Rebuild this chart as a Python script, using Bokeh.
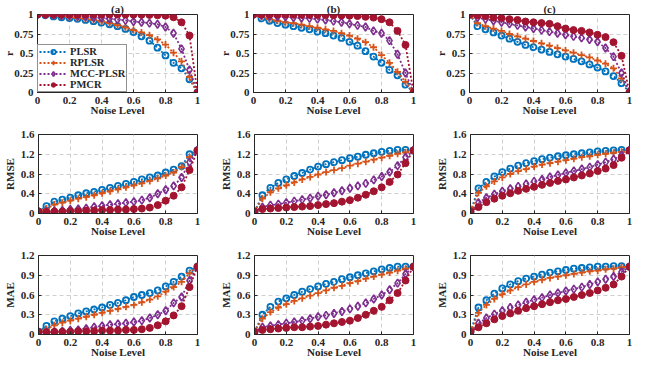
from bokeh.plotting import figure
from bokeh.layouts import column, row
from bokeh.models import FixedTicker, CustomJSTickFormatter, Range1d, Title
from bokeh.embed import file_html
from bokeh.resources import INLINE

# ---------------- data ----------------
noise = [0, 0.05, 0.1, 0.15, 0.2, 0.25, 0.3, 0.35, 0.4, 0.45, 0.5,
         0.55, 0.6, 0.65, 0.7, 0.75, 0.8, 0.85, 0.9, 0.95, 1]
methods = ["PLSR", "RPLSR", "MCC-PLSR", "PMCR"]
col_titles = ["(a)", "(b)", "(c)"]
row_labels = ["r", "RMSE", "MAE"]
x_ticks = [0, 0.2, 0.4, 0.6, 0.8, 1]
r_ticks = [0, 0.25, 0.5, 0.75, 1]
rmse_ticks = [0, 0.4, 0.8, 1.2, 1.6]
mae_ticks = [0, 0.3, 0.6, 0.9, 1.2]

# r, column (a)
r_a_plsr = [1, .99, .975, .965, .955, .945, .93, .915, .895, .875, .85, .815, .775, .72, .665, .575, .475, .38, .31, .17, 0]
r_a_rplsr = [1, .995, .985, .975, .965, .955, .945, .93, .91, .89, .865, .835, .8, .77, .735, .68, .615, .51, .4, .2, 0]
r_a_mcc = [1, .998, .995, .99, .985, .98, .975, .965, .955, .945, .935, .925, .91, .9, .89, .875, .84, .76, .56, .29, 0]
r_a_pmcr = [1, 1, 1, 1, 1, 1, 1, 1, 1, 1, 1, .999, .998, .997, .995, .99, .985, .965, .9, .73, 0]
# r, column (b)
r_b_plsr = [1, .95, .92, .89, .87, .85, .83, .81, .78, .76, .73, .70, .65, .60, .53, .46, .38, .29, .22, .10, 0]
r_b_rplsr = [1, .97, .94, .92, .9, .89, .87, .85, .83, .81, .79, .76, .73, .69, .645, .58, .48, .38, .265, .135, 0]
r_b_mcc = [1, .99, .98, .975, .97, .96, .955, .95, .94, .93, .915, .9, .88, .86, .84, .79, .76, .665, .49, .25, 0]
r_b_pmcr = [1, 1, 1, 1, .998, .997, .996, .995, .994, .993, .99, .988, .985, .98, .97, .96, .94, .9, .79, .61, 0]
# r, column (c)
r_c_plsr = [1, .85, .81, .77, .73, .69, .65, .61, .58, .55, .52, .49, .46, .43, .40, .36, .32, .27, .21, .12, 0]
r_c_rplsr = [1, .89, .85, .82, .79, .75, .72, .69, .66, .63, .6, .57, .54, .51, .48, .45, .41, .37, .31, .18, 0]
r_c_mcc = [1, .96, .94, .92, .9, .88, .86, .84, .82, .8, .78, .76, .74, .72, .7, .68, .65, .57, .46, .25, 0]
r_c_pmcr = [1, .99, .98, .96, .955, .94, .93, .91, .9, .89, .88, .85, .82, .8, .79, .77, .74, .71, .645, .47, 0]

# RMSE, column (a)
rmse_a_plsr = [.04, .15, .24, .28, .32, .37, .41, .44, .48, .52, .56, .6, .64, .69, .73, .77, .83, .89, .96, 1.2, 1.28]
rmse_a_rplsr = [.04, .1, .18, .22, .26, .3, .33, .37, .41, .45, .49, .53, .57, .61, .66, .71, .77, .83, .94, 1.14, 1.28]
rmse_a_mcc = [.04, .04, .05, .06, .08, .09, .11, .14, .16, .18, .2, .22, .24, .27, .32, .4, .48, .56, .73, 1.04, 1.28]
rmse_a_pmcr = [.04, .03, .04, .04, .05, .05, .06, .06, .07, .07, .08, .08, .09, .1, .12, .17, .26, .36, .53, .88, 1.28]
# RMSE, column (b)
rmse_b_plsr = [.04, .37, .52, .62, .69, .76, .82, .89, .95, 1.0, 1.04, 1.08, 1.12, 1.15, 1.19, 1.22, 1.25, 1.27, 1.29, 1.29, 1.28]
rmse_b_rplsr = [.04, .3, .43, .51, .57, .63, .69, .74, .79, .84, .88, .92, .97, 1.01, 1.05, 1.09, 1.13, 1.17, 1.21, 1.24, 1.28]
rmse_b_mcc = [.04, .13, .17, .19, .22, .25, .28, .31, .35, .38, .42, .46, .51, .56, .61, .68, .75, .84, .97, 1.14, 1.28]
rmse_b_pmcr = [.04, .09, .1, .11, .12, .13, .14, .15, .17, .19, .21, .24, .27, .32, .38, .45, .53, .64, .79, 1.02, 1.28]
# RMSE, column (c)
rmse_c_plsr = [.04, .51, .64, .75, .84, .91, .97, 1.02, 1.06, 1.1, 1.13, 1.16, 1.18, 1.2, 1.22, 1.24, 1.26, 1.27, 1.28, 1.29, 1.28]
rmse_c_rplsr = [.04, .42, .55, .65, .73, .8, .86, .9, .95, .99, 1.02, 1.05, 1.08, 1.11, 1.14, 1.16, 1.19, 1.21, 1.23, 1.25, 1.28]
rmse_c_mcc = [.04, .22, .32, .39, .45, .5, .55, .6, .65, .69, .74, .78, .82, .86, .9, .94, .99, 1.04, 1.1, 1.18, 1.28]
rmse_c_pmcr = [.04, .13, .23, .3, .36, .41, .46, .5, .54, .58, .62, .66, .69, .73, .77, .81, .86, .91, .98, 1.13, 1.28]

# MAE, column (a)
mae_a_plsr = [.04, .13, .2, .24, .28, .32, .35, .38, .41, .45, .48, .52, .57, .6, .63, .67, .73, .8, .88, .97, 1.03]
mae_a_rplsr = [.04, .08, .14, .18, .21, .24, .27, .3, .33, .36, .39, .42, .45, .49, .53, .58, .65, .72, .8, .93, 1.03]
mae_a_mcc = [.04, .04, .04, .05, .06, .07, .09, .11, .13, .15, .16, .17, .19, .21, .25, .3, .36, .48, .57, .82, 1.03]
mae_a_pmcr = [.04, .03, .04, .04, .04, .05, .05, .05, .06, .06, .06, .07, .07, .08, .1, .14, .2, .29, .43, .72, 1.03]
# MAE, column (b)
mae_b_plsr = [.04, .3, .42, .5, .55, .6, .65, .69, .73, .77, .8, .84, .87, .9, .93, .96, .99, 1.01, 1.03, 1.03, 1.03]
mae_b_rplsr = [.04, .24, .34, .41, .46, .51, .55, .59, .63, .67, .71, .74, .78, .81, .85, .88, .91, .94, .97, 1.0, 1.03]
mae_b_mcc = [.04, .11, .13, .15, .17, .19, .21, .24, .27, .29, .32, .35, .39, .43, .48, .54, .6, .68, .78, .92, 1.03]
mae_b_pmcr = [.04, .07, .08, .09, .1, .11, .11, .12, .13, .15, .17, .19, .21, .25, .3, .36, .42, .52, .63, .82, 1.03]
# MAE, column (c)
mae_c_plsr = [.04, .41, .52, .62, .7, .76, .81, .85, .88, .91, .94, .96, .98, 1.0, 1.01, 1.02, 1.03, 1.03, 1.04, 1.04, 1.03]
mae_c_rplsr = [.04, .33, .45, .54, .61, .67, .72, .76, .8, .83, .86, .88, .9, .92, .94, .96, .97, .99, 1.0, 1.02, 1.03]
mae_c_mcc = [.04, .17, .25, .31, .36, .41, .45, .49, .53, .56, .6, .63, .66, .69, .72, .76, .8, .84, .88, .95, 1.03]
mae_c_pmcr = [.04, .11, .17, .23, .28, .32, .36, .4, .43, .46, .49, .52, .54, .57, .6, .63, .67, .71, .76, .88, 1.03]

panel_data = [
    [[r_a_plsr, r_a_rplsr, r_a_mcc, r_a_pmcr],
     [r_b_plsr, r_b_rplsr, r_b_mcc, r_b_pmcr],
     [r_c_plsr, r_c_rplsr, r_c_mcc, r_c_pmcr]],
    [[rmse_a_plsr, rmse_a_rplsr, rmse_a_mcc, rmse_a_pmcr],
     [rmse_b_plsr, rmse_b_rplsr, rmse_b_mcc, rmse_b_pmcr],
     [rmse_c_plsr, rmse_c_rplsr, rmse_c_mcc, rmse_c_pmcr]],
    [[mae_a_plsr, mae_a_rplsr, mae_a_mcc, mae_a_pmcr],
     [mae_b_plsr, mae_b_rplsr, mae_b_mcc, mae_b_pmcr],
     [mae_c_plsr, mae_c_rplsr, mae_c_mcc, mae_c_pmcr]],
]
row_ticks = [r_ticks, rmse_ticks, mae_ticks]

# ---------------- style ----------------
FONT = "Liberation Serif"
FS = "11px"
INK = "#262626"
colors = ["#0072BD", "#D95319", "#7E2F8E", "#A2142F"]
markers = ["circle", "cross", "diamond", "circle"]
msizes = [6, 7, 8, 7]
mlw = [1.8, 1.8, 1.6, 1.0]
mfill = [None, None, None, "#A2142F"]

# layout geometry (pixels)
col_w = [216, 216, 200]
col_bl = [32, 32, 32]
col_br = [19, 19, 3]
row_h = [126, 121, 114]
row_bt = [13, 8, 8]
row_bb = [34, 34, 27]
row_ylab_standoff = [-4, 2, 2]

fmt_code = "return tick.toString();"

rows = []
for ri in range(3):
    figs = []
    ticks = row_ticks[ri]
    ymax = ticks[-1]
    for ci in range(3):
        p = figure(width=col_w[ci], height=row_h[ri],
                   x_range=Range1d(0, 1), y_range=Range1d(0, ymax),
                   output_backend="svg", toolbar_location=None, title=None,
                   min_border_left=col_bl[ci], min_border_right=col_br[ci],
                   min_border_top=row_bt[ri], min_border_bottom=row_bb[ri])
        p.background_fill_color = "white"
        p.border_fill_color = "white"
        p.outline_line_color = INK
        p.outline_line_width = 1
        p.outline_line_alpha = 1

        p.xaxis.ticker = FixedTicker(ticks=x_ticks)
        p.yaxis.ticker = FixedTicker(ticks=ticks)
        for ax in (p.xaxis[0], p.yaxis[0]):
            ax.formatter = CustomJSTickFormatter(code=fmt_code)
            ax.major_label_text_font = FONT
            ax.major_label_text_font_style = "bold"
            ax.major_label_text_font_size = FS
            ax.major_label_text_color = INK
            ax.major_tick_in = 3
            ax.major_tick_out = 0
            ax.minor_tick_in = 0
            ax.minor_tick_out = 0
            ax.axis_line_color = INK
            ax.major_tick_line_color = INK
            ax.major_label_standoff = 4
            ax.axis_label_text_font = FONT
            ax.axis_label_text_font_style = "bold"
            ax.axis_label_text_font_size = FS
            ax.axis_label_text_color = INK
        p.xaxis.axis_label = "Noise Level"
        p.xaxis.axis_label_standoff = -3
        p.yaxis.axis_label = row_labels[ri]
        p.yaxis.axis_label_standoff = row_ylab_standoff[ri]

        p.grid.grid_line_color = "#cfcfcf"
        p.grid.grid_line_dash = "4 3"
        p.grid.grid_line_width = 1

        series = panel_data[ri][ci]
        show_legend = (ri == 0 and ci == 0)
        for k in range(4):
            kw = dict(legend_label=methods[k]) if show_legend else {}
            p.line(noise, series[k], line_color=colors[k], line_width=1.8,
                   line_dash="2 2", **kw)
            p.scatter(noise, series[k], marker=markers[k], size=msizes[k],
                      line_color=colors[k], line_width=mlw[k],
                      fill_color=mfill[k] if mfill[k] else None, **kw)
        if show_legend:
            lg = p.legend[0]
            lg.location = "bottom_left"
            lg.margin = 0
            lg.padding = 1
            lg.spacing = -1
            lg.label_height = 11
            lg.glyph_height = 11
            lg.glyph_width = 28
            lg.label_standoff = 3
            lg.label_text_font = FONT
            lg.label_text_font_style = "bold"
            lg.label_text_font_size = "10.5px"
            lg.label_text_line_height = 1.0
            lg.label_text_color = INK
            lg.border_line_color = INK
            lg.border_line_width = 1
            lg.background_fill_alpha = 1

        if ri == 0:
            t = Title(text=col_titles[ci], align="center", text_font=FONT,
                      text_font_style="bold", text_font_size=FS,
                      text_color=INK, standoff=0, offset=0)
            p.add_layout(t, "above")
        figs.append(p)
    rows.append(row(*figs, spacing=0))

layout = column(*rows, spacing=0)
open("out.html", "w").write(file_html(layout, INLINE))
